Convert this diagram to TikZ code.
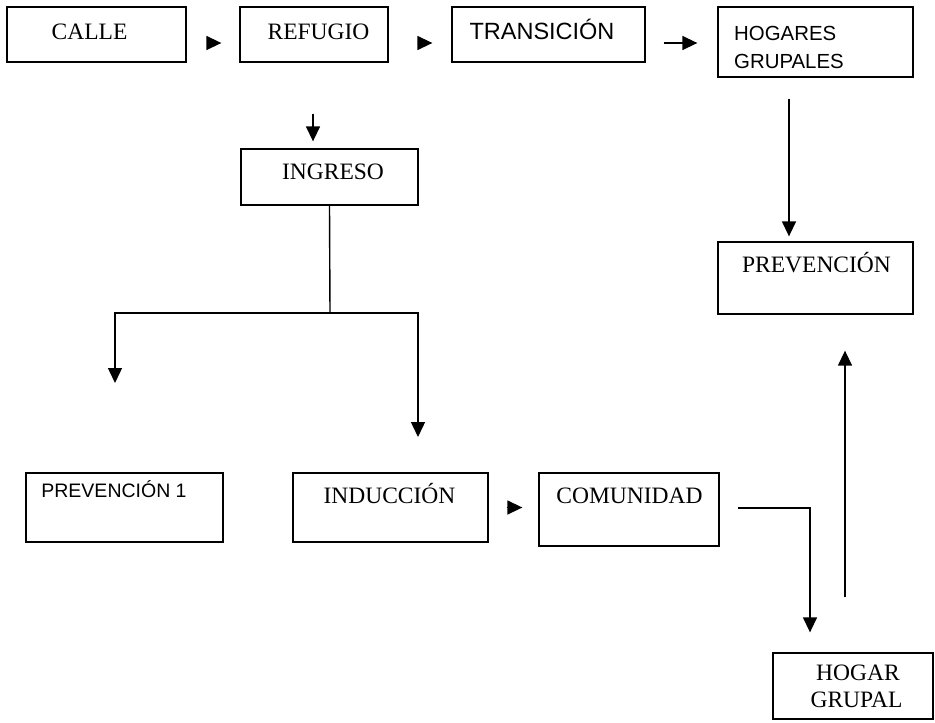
\documentclass[tikz,border=0pt]{standalone}
\usepackage{fontspec}
\setmainfont{Liberation Serif}
\newfontfamily\sansf{Liberation Sans}
\usetikzlibrary{arrows.meta}
\begin{document}
\begin{tikzpicture}[x=1pt,y=-1pt,
  box/.style={draw, line width=1.3pt, inner sep=0pt, rectangle},
  serif/.style={inner sep=0pt, anchor=base, font=\fontsize{23.5}{27}\selectfont},
  sans/.style={inner sep=0pt, anchor=base, font=\sansf\fontsize{20.4}{25}\selectfont},
  arr/.style={line width=1.4pt, -{Triangle[length=15pt,width=14pt]}},
  ln/.style={line width=1.4pt}]
\useasboundingbox (0,0) rectangle (935,723);
% boxes
\node[box, minimum width=179pt, minimum height=55pt] (calle) at (96.5,34.5) {};
\node[box, minimum width=148pt, minimum height=55pt] (refugio) at (314,34.5) {};
\node[box, minimum width=193pt, minimum height=55pt] (transicion) at (548.5,34.5) {};
\node[box, minimum width=195pt, minimum height=70pt] (hogares) at (815.5,42) {};
\node[box, minimum width=177pt, minimum height=56pt] (ingreso) at (329.5,177) {};
\node[box, minimum width=195pt, minimum height=72pt] (prevencion) at (815.5,278) {};
\node[box, minimum width=197pt, minimum height=69pt] (prevuno) at (124.5,507.5) {};
\node[box, minimum width=195pt, minimum height=69pt] (induccion) at (390.5,507.5) {};
\node[box, minimum width=180pt, minimum height=73pt] (comunidad) at (629,509.5) {};
\node[box, minimum width=160pt, minimum height=66pt] (hogar) at (853,686) {};
% texts
\node[serif] (tcalle) at (89.5,39.5) {CALLE};
\node[serif] (trefugio) at (318.5,39.5) {REFUGIO};
\node[sans, font=\sansf\fontsize{23.5}{27}\selectfont] (ttransicion) at (542,39) {TRANSICIÓN};
\node[sans, anchor=base west] (thogares1) at (734,40.5) {HOGARES};
\node[sans, anchor=base west] (thogares2) at (734,68.5) {GRUPALES};
\node[serif] (tingreso) at (333,179.6) {INGRESO};
\node[serif] (tprevencion) at (816.5,272.6) {PREVENCIÓN};
\node[inner sep=0pt, anchor=base, font=\sansf\fontsize{19.5}{22}\selectfont] (tprevuno) at (114,497.7) {PREVENCIÓN 1};
\node[serif] (tinduccion) at (389.5,503.6) {INDUCCIÓN};
\node[serif] (tcomunidad) at (629.5,503.6) {COMUNIDAD};
\node[serif] (thogar1) at (858,680) {HOGAR};
\node[serif] (thogar2) at (856.5,707.6) {GRUPAL};
% connectors
\draw[arr, shorten <=20pt, shorten >=18pt] ([yshift=-8.5pt]calle.east) -- ([yshift=-8.5pt]refugio.west);
\draw[arr, shorten <=29pt, shorten >=19pt] ([yshift=-8.5pt]refugio.east) -- ([yshift=-8.5pt]transicion.west);
\draw[arr, shorten <=18pt, shorten >=20pt] ([yshift=-8.5pt]transicion.east) -- ([yshift=-1pt]hogares.west);
\draw[arr] ([xshift=-1pt,yshift=-51pt]refugio.south) -- ([xshift=-16.5pt,yshift=7pt]ingreso.north);
\coordinate (split) at (330,313);
\coordinate (lend) at (115,383);
\coordinate (rend) at (418,437);
\draw[ln] (ingreso.south) -- (split);
\draw[arr] (split) -| (lend);
\draw[arr] (split) -| (rend);
\draw[arr] ([xshift=-26.5pt,yshift=-21pt]hogares.south) -- ([xshift=-26.5pt,yshift=5pt]prevencion.north);
\draw[arr, shorten <=18pt, shorten >=16pt] (induccion.east) -- (induccion.east -| comunidad.west);
\draw[arr] ([xshift=18pt,yshift=1.5pt]comunidad.east) -| ([xshift=-43pt,yshift=20pt]hogar.north);
\draw[arr] ([xshift=-8pt,yshift=55pt]hogar.north) -- ([xshift=29.5pt,yshift=-36pt]prevencion.south);
\end{tikzpicture}
\end{document}
